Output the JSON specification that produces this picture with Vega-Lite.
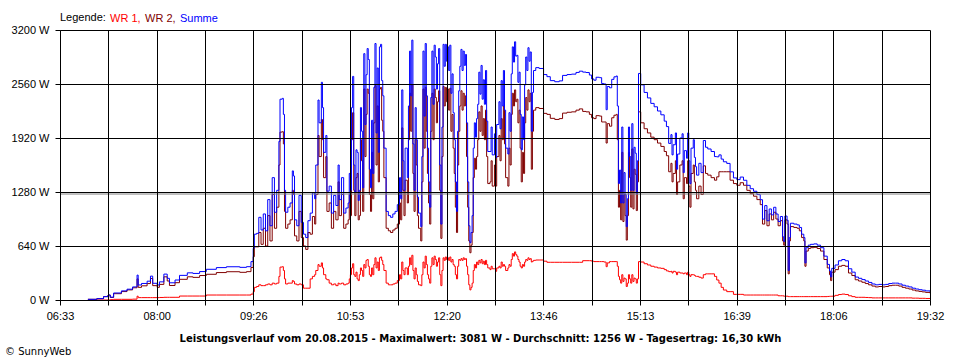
{
"$schema": "https://vega.github.io/schema/vega-lite/v6.json",
"width": 870, "height": 270,
"autosize": {"type": "none"},
"padding": {"left": 60, "top": 30, "right": 30, "bottom": 60},
"background": "white",
"title": {"text": "© SunnyWeb", "orient": "bottom", "anchor": "start", "frame": "group", "fontSize": 10, "fontWeight": "normal", "font": "DejaVu Sans", "color": "black", "dx": -55, "offset": 4},
"config": {
  "view": {"stroke": null},
  "axis": {"domainColor": "black", "gridColor": "black", "gridOpacity": 1, "tickColor": "black", "labelColor": "black", "labelFont": "Liberation Sans", "labelFontSize": 11, "titleFont": "DejaVu Sans", "titleColor": "black"}
},
"data": {"values": [
{"m":418,"a":0,"b":8,"c":8},{"m":426,"a":0,"b":16,"c":16},{"m":432,"a":0,"b":40,"c":40},{"m":436,"a":0,"b":59,"c":59},{"m":438,"a":4,"b":30,"c":34},{"m":441,"a":8,"b":75,"c":83},{"m":448,"a":8,"b":100,"c":108},{"m":453,"a":8,"b":120,"c":128},{"m":458,"a":10,"b":145,"c":155},{"m":462,"a":45,"b":250,"c":295},{"m":463,"a":28,"b":150,"c":178},{"m":466,"a":28,"b":168,"c":196},{"m":471,"a":28,"b":195,"c":223},{"m":474,"a":28,"b":255,"c":283},{"m":476,"a":28,"b":170,"c":198},{"m":480,"a":28,"b":150,"c":178},{"m":482,"a":30,"b":185,"c":215},{"m":486,"a":32,"b":275,"c":307},{"m":489,"a":32,"b":225,"c":257},{"m":491,"a":32,"b":172,"c":204},{"m":496,"a":32,"b":205,"c":237},{"m":500,"a":47,"b":245,"c":292},{"m":507,"a":47,"b":275,"c":322},{"m":512,"a":47,"b":268,"c":315},{"m":518,"a":47,"b":290,"c":337},{"m":524,"a":59,"b":305,"c":364},{"m":533,"a":59,"b":325,"c":384},{"m":542,"a":59,"b":335,"c":394},{"m":554,"a":59,"b":328,"c":387},{"m":560,"a":59,"b":336,"c":395},{"m":564,"a":70,"b":385,"c":455},
{"m":566,"a":99,"b":513,"c":612},{"m":567,"a":150,"b":630,"c":780},{"m":569,"a":160,"b":630,"c":790},{"m":571,"a":180,"b":800,"c":980},{"m":573,"a":170,"b":660,"c":830},{"m":575,"a":170,"b":850,"c":1020},{"m":577,"a":180,"b":640,"c":820},{"m":579,"a":190,"b":1000,"c":1190},{"m":581,"a":180,"b":700,"c":880},{"m":583,"a":200,"b":1250,"c":1450},{"m":585,"a":190,"b":850,"c":1040},{"m":587,"a":200,"b":1100,"c":1300},{"m":589,"a":280,"b":1600,"c":1880},{"m":590,"a":390,"b":1990,"c":2380},{"m":592,"a":395,"b":1995,"c":2390},{"m":593,"a":350,"b":1850,"c":2200},{"m":594,"a":250,"b":1050,"c":1300},{"m":595,"a":190,"b":850,"c":1040},{"m":597,"a":200,"b":900,"c":1100},{"m":599,"a":200,"b":950,"c":1150},{"m":601,"a":230,"b":1300,"c":1530},{"m":602,"a":220,"b":1250,"c":1470},{"m":603,"a":190,"b":760,"c":950},{"m":605,"a":180,"b":700,"c":880},{"m":607,"a":190,"b":1050,"c":1240},{"m":609,"a":180,"b":740,"c":920},{"m":611,"a":140,"b":640,"c":780},{"m":613,"a":140,"b":600,"c":740},{"m":615,"a":140,"b":800,"c":940},{"m":617,"a":250,"b":780,"c":1030},{"m":619,"a":280,"b":990,"c":1270},{"m":621,"a":300,"b":900,"c":1200},{"m":622,"a":350,"b":1250,"c":1600},{"m":624,"a":420,"b":1950,"c":2370},{"m":625,"a":400,"b":1700,"c":2100},{"m":627,"a":440,"b":2140,"c":2580},{"m":628,"a":380,"b":1900,"c":2280},{"m":629,"a":300,"b":1450,"c":1750},{"m":631,"a":250,"b":1700,"c":1950},{"m":632,"a":240,"b":1050,"c":1290},{"m":634,"a":200,"b":1150,"c":1350},{"m":636,"a":180,"b":850,"c":1030},{"m":638,"a":190,"b":1050,"c":1240},{"m":640,"a":170,"b":950,"c":1120},{"m":642,"a":200,"b":1400,"c":1600},{"m":643,"a":190,"b":1000,"c":1190},{"m":645,"a":200,"b":1250,"c":1450},{"m":647,"a":180,"b":850,"c":1030},{"m":649,"a":190,"b":900,"c":1090},{"m":651,"a":200,"b":950,"c":1150},{"m":652,"a":250,"b":1250,"c":1500},
{"m":653,"a":300,"b":1000,"c":1300},{"m":654,"a":380,"b":1900,"c":2280},{"m":655,"a":430,"b":2220,"c":2650},{"m":656,"a":300,"b":1300,"c":1600},{"m":657,"a":280,"b":1000,"c":1280},{"m":658,"a":330,"b":1450,"c":1780},{"m":659,"a":250,"b":1500,"c":1750},{"m":660,"a":230,"b":950,"c":1180},{"m":661,"a":300,"b":1000,"c":1300},{"m":662,"a":380,"b":1900,"c":2280},{"m":663,"a":350,"b":1650,"c":2000},{"m":664,"a":280,"b":1050,"c":1330},{"m":665,"a":420,"b":2500,"c":2920},{"m":666,"a":380,"b":1700,"c":2080},{"m":667,"a":470,"b":2200,"c":2670},{"m":668,"a":480,"b":2500,"c":2980},{"m":669,"a":400,"b":2450,"c":2850},{"m":670,"a":300,"b":1250,"c":1550},{"m":671,"a":280,"b":1050,"c":1330},{"m":672,"a":380,"b":1750,"c":2130},{"m":673,"a":300,"b":1200,"c":1500},{"m":674,"a":420,"b":2100,"c":2520},{"m":675,"a":500,"b":2540,"c":3040},{"m":676,"a":380,"b":1600,"c":1980},{"m":677,"a":450,"b":2300,"c":2750},{"m":678,"a":350,"b":1400,"c":1750},{"m":679,"a":500,"b":2500,"c":3000},{"m":680,"a":510,"b":2520,"c":3030},{"m":681,"a":470,"b":2130,"c":2600},{"m":682,"a":420,"b":2000,"c":2420},{"m":683,"a":350,"b":1450,"c":1800},{"m":685,"a":200,"b":850,"c":1050},{"m":687,"a":180,"b":820,"c":1000},{"m":689,"a":180,"b":800,"c":980},{"m":691,"a":190,"b":830,"c":1020},{"m":693,"a":200,"b":850,"c":1050},{"m":695,"a":230,"b":900,"c":1130},{"m":697,"a":300,"b":1150,"c":1450},{"m":698,"a":250,"b":950,"c":1200},{"m":699,"a":450,"b":2040,"c":2490},{"m":700,"a":350,"b":1300,"c":1650},{"m":701,"a":300,"b":1000,"c":1300},{"m":702,"a":380,"b":1420,"c":1800},{"m":704,"a":300,"b":1150,"c":1450},{"m":705,"a":400,"b":1900,"c":2300},{"m":706,"a":500,"b":2450,"c":2950},{"m":707,"a":420,"b":2000,"c":2420},{"m":708,"a":530,"b":2550,"c":3080},{"m":709,"a":350,"b":1500,"c":1850},{"m":710,"a":250,"b":1050,"c":1300},{"m":711,"a":380,"b":1900,"c":2280},{"m":712,"a":300,"b":1600,"c":1900},{"m":713,"a":220,"b":1000,"c":1220},{"m":714,"a":180,"b":850,"c":1030},{"m":716,"a":170,"b":700,"c":870},{"m":717,"a":300,"b":1400,"c":1700},{"m":718,"a":450,"b":2500,"c":2950},{"m":719,"a":380,"b":1800,"c":2180},{"m":720,"a":520,"b":2520,"c":3040},{"m":721,"a":420,"b":2000,"c":2420},{"m":722,"a":300,"b":1500,"c":1800},{"m":723,"a":250,"b":1150,"c":1400},{"m":724,"a":200,"b":900,"c":1100},{"m":725,"a":400,"b":2000,"c":2400},{"m":726,"a":500,"b":2450,"c":2950},{"m":727,"a":420,"b":1900,"c":2320},{"m":728,"a":520,"b":2500,"c":3020},{"m":729,"a":480,"b":2400,"c":2880},{"m":730,"a":400,"b":2100,"c":2500},{"m":731,"a":450,"b":2350,"c":2800},{"m":732,"a":500,"b":2480,"c":2980},{"m":733,"a":300,"b":1300,"c":1600},{"m":734,"a":170,"b":730,"c":900},{"m":735,"a":350,"b":1700,"c":2050},{"m":736,"a":500,"b":2530,"c":3030},{"m":737,"a":470,"b":2300,"c":2770},{"m":738,"a":510,"b":2520,"c":3030},{"m":739,"a":480,"b":2350,"c":2830},{"m":740,"a":500,"b":2500,"c":3000},{"m":741,"a":470,"b":2250,"c":2720},{"m":742,"a":510,"b":2510,"c":3020},{"m":743,"a":450,"b":2000,"c":2450},{"m":744,"a":480,"b":2200,"c":2680},{"m":745,"a":420,"b":1800,"c":2220},{"m":746,"a":400,"b":1500,"c":1900},{"m":747,"a":300,"b":1100,"c":1400},{"m":748,"a":250,"b":800,"c":1050},{"m":749,"a":400,"b":1600,"c":2000},{"m":750,"a":480,"b":2000,"c":2480},{"m":751,"a":470,"b":2300,"c":2770},{"m":752,"a":490,"b":2480,"c":2970},{"m":753,"a":470,"b":2250,"c":2720},{"m":754,"a":500,"b":2450,"c":2950},{"m":755,"a":480,"b":2300,"c":2780},{"m":756,"a":490,"b":2420,"c":2910},{"m":757,"a":400,"b":1700,"c":2100},{"m":758,"a":300,"b":1100,"c":1400},{"m":759,"a":180,"b":700,"c":880},{"m":760,"a":120,"b":560,"c":680},{"m":761,"a":150,"b":650,"c":800},{"m":762,"a":200,"b":800,"c":1000},{"m":763,"a":350,"b":1450,"c":1800},{"m":764,"a":420,"b":1680,"c":2100},{"m":765,"a":380,"b":1550,"c":1930},{"m":766,"a":450,"b":1700,"c":2150},{"m":767,"a":420,"b":1900,"c":2320},{"m":768,"a":470,"b":2230,"c":2700},{"m":769,"a":440,"b":2000,"c":2440},{"m":770,"a":480,"b":2300,"c":2780},{"m":771,"a":430,"b":1950,"c":2380},{"m":772,"a":460,"b":2150,"c":2610},{"m":773,"a":420,"b":1900,"c":2320},{"m":774,"a":470,"b":2250,"c":2720},{"m":775,"a":420,"b":1700,"c":2120},{"m":776,"a":380,"b":1380,"c":1760},{"m":778,"a":360,"b":1400,"c":1760},{"m":779,"a":400,"b":1650,"c":2050},{"m":780,"a":370,"b":1350,"c":1720},{"m":782,"a":370,"b":1600,"c":1970},{"m":783,"a":340,"b":1350,"c":1690},{"m":784,"a":380,"b":1700,"c":2080},{"m":786,"a":400,"b":1950,"c":2350},{"m":787,"a":380,"b":1650,"c":2030},{"m":788,"a":450,"b":2150,"c":2600},{"m":789,"a":400,"b":1900,"c":2300},{"m":790,"a":420,"b":2300,"c":2720},{"m":791,"a":400,"b":1850,"c":2250},{"m":792,"a":350,"b":1450,"c":1800},{"m":794,"a":380,"b":1350,"c":1730},{"m":795,"a":420,"b":1800,"c":2220},{"m":796,"a":400,"b":1600,"c":2000},{"m":797,"a":480,"b":2200,"c":2680},{"m":798,"a":550,"b":2450,"c":3000},{"m":799,"a":520,"b":2300,"c":2820},{"m":800,"a":570,"b":2490,"c":3060},{"m":801,"a":540,"b":2350,"c":2890},{"m":802,"a":520,"b":2380,"c":2900},{"m":803,"a":480,"b":2100,"c":2580},{"m":804,"a":450,"b":2250,"c":2700},{"m":805,"a":400,"b":1800,"c":2200},{"m":806,"a":380,"b":1400,"c":1780},{"m":807,"a":420,"b":1750,"c":2170},{"m":808,"a":400,"b":1500,"c":1900},{"m":809,"a":450,"b":2100,"c":2550},{"m":810,"a":480,"b":2400,"c":2880},{"m":811,"a":470,"b":2250,"c":2720},{"m":812,"a":500,"b":2490,"c":2990},{"m":813,"a":480,"b":2350,"c":2830},{"m":814,"a":490,"b":2450,"c":2940},{"m":815,"a":450,"b":1550,"c":2000},{"m":816,"a":460,"b":2000,"c":2460},{"m":817,"a":470,"b":2250,"c":2720},
{"m":819,"a":474,"b":2280,"c":2754},{"m":822,"a":474,"b":2270,"c":2744},{"m":826,"a":460,"b":2212,"c":2672},{"m":829,"a":447,"b":2200,"c":2647},{"m":832,"a":447,"b":2153,"c":2600},{"m":836,"a":447,"b":2140,"c":2587},{"m":840,"a":447,"b":2150,"c":2597},{"m":843,"a":447,"b":2215,"c":2662},{"m":847,"a":447,"b":2225,"c":2672},{"m":851,"a":447,"b":2230,"c":2677},{"m":855,"a":447,"b":2250,"c":2697},{"m":858,"a":447,"b":2265,"c":2712},{"m":861,"a":466,"b":2235,"c":2701},{"m":864,"a":466,"b":2230,"c":2696},{"m":867,"a":466,"b":2200,"c":2666},{"m":869,"a":460,"b":2160,"c":2620},{"m":871,"a":455,"b":2150,"c":2605},{"m":873,"a":455,"b":2185,"c":2640},{"m":876,"a":455,"b":2180,"c":2635},{"m":878,"a":455,"b":2110,"c":2565},{"m":880,"a":450,"b":2110,"c":2560},{"m":882,"a":395,"b":1860,"c":2255},{"m":883,"a":440,"b":2090,"c":2530},{"m":885,"a":455,"b":2060,"c":2515},{"m":887,"a":455,"b":2160,"c":2615},{"m":889,"a":455,"b":2190,"c":2645},{"m":891,"a":455,"b":2200,"c":2655},
{"m":892,"a":400,"b":1900,"c":2300},{"m":893,"a":280,"b":1100,"c":1380},{"m":894,"a":240,"b":1300,"c":1540},{"m":895,"a":200,"b":950,"c":1150},{"m":896,"a":300,"b":1750,"c":2050},{"m":897,"a":220,"b":930,"c":1150},{"m":898,"a":260,"b":1250,"c":1510},{"m":899,"a":250,"b":1000,"c":1250},{"m":900,"a":160,"b":710,"c":870},{"m":901,"a":200,"b":1000,"c":1200},{"m":902,"a":300,"b":1750,"c":2050},{"m":903,"a":250,"b":1450,"c":1700},{"m":904,"a":200,"b":1100,"c":1300},{"m":905,"a":300,"b":1790,"c":2090},{"m":906,"a":220,"b":1080,"c":1300},{"m":907,"a":260,"b":1550,"c":1810},{"m":908,"a":250,"b":1490,"c":1740},{"m":909,"a":200,"b":1060,"c":1260},{"m":910,"a":250,"b":1400,"c":1650},
{"m":911,"a":455,"b":2230,"c":2685},{"m":913,"a":450,"b":2100,"c":2550},{"m":916,"a":430,"b":2030,"c":2460},{"m":919,"a":415,"b":1980,"c":2395},{"m":922,"a":400,"b":1930,"c":2330},{"m":925,"a":390,"b":1900,"c":2290},{"m":928,"a":380,"b":1860,"c":2240},{"m":931,"a":375,"b":1820,"c":2195},{"m":934,"a":360,"b":1760,"c":2120},{"m":936,"a":345,"b":1710,"c":2055},{"m":938,"a":336,"b":1520,"c":1856},
{"m":940,"a":340,"b":1620,"c":1960},{"m":941,"a":320,"b":1400,"c":1720},{"m":942,"a":340,"b":1500,"c":1840},{"m":944,"a":330,"b":1650,"c":1980},{"m":945,"a":300,"b":1250,"c":1550},{"m":946,"a":330,"b":1400,"c":1730},{"m":948,"a":320,"b":1600,"c":1920},{"m":950,"a":320,"b":1650,"c":1970},{"m":951,"a":310,"b":1200,"c":1510},{"m":952,"a":320,"b":1450,"c":1770},{"m":954,"a":300,"b":1380,"c":1680},{"m":955,"a":330,"b":1650,"c":1980},{"m":956,"a":300,"b":1350,"c":1650},{"m":957,"a":280,"b":1100,"c":1380},{"m":958,"a":300,"b":1500,"c":1800},{"m":960,"a":300,"b":1600,"c":1900},{"m":961,"a":290,"b":1400,"c":1690},{"m":962,"a":280,"b":1300,"c":1580},{"m":963,"a":280,"b":1200,"c":1480},{"m":965,"a":270,"b":1350,"c":1620},{"m":967,"a":260,"b":1250,"c":1510},{"m":969,"a":300,"b":1590,"c":1890},{"m":971,"a":310,"b":1500,"c":1810},{"m":973,"a":310,"b":1480,"c":1790},{"m":976,"a":310,"b":1450,"c":1760},{"m":979,"a":280,"b":1420,"c":1700},{"m":981,"a":237,"b":1460,"c":1697},{"m":983,"a":200,"b":1520,"c":1720},{"m":985,"a":150,"b":1520,"c":1670},{"m":987,"a":118,"b":1520,"c":1638},{"m":990,"a":99,"b":1520,"c":1619},{"m":993,"a":99,"b":1420,"c":1519},{"m":996,"a":67,"b":1380,"c":1447},{"m":999,"a":67,"b":1360,"c":1427},{"m":1002,"a":67,"b":1390,"c":1457},{"m":1005,"a":59,"b":1360,"c":1419},{"m":1008,"a":59,"b":1300,"c":1359},{"m":1011,"a":59,"b":1260,"c":1319},{"m":1014,"a":59,"b":1230,"c":1289},{"m":1017,"a":59,"b":1190,"c":1249},{"m":1020,"a":59,"b":1130,"c":1189},
{"m":1022,"a":59,"b":900,"c":959},{"m":1024,"a":59,"b":1060,"c":1119},{"m":1026,"a":59,"b":880,"c":939},{"m":1028,"a":59,"b":1020,"c":1079},{"m":1030,"a":59,"b":950,"c":1009},{"m":1032,"a":59,"b":1040,"c":1099},{"m":1034,"a":59,"b":960,"c":1019},{"m":1036,"a":50,"b":880,"c":930},{"m":1038,"a":50,"b":940,"c":990},{"m":1040,"a":50,"b":700,"c":750},{"m":1041,"a":45,"b":650,"c":695},{"m":1042,"a":45,"b":950,"c":995},{"m":1044,"a":45,"b":900,"c":945},{"m":1045,"a":40,"b":310,"c":350},{"m":1046,"a":40,"b":700,"c":740},{"m":1047,"a":40,"b":870,"c":910},{"m":1050,"a":40,"b":860,"c":900},{"m":1053,"a":40,"b":850,"c":890},{"m":1055,"a":40,"b":820,"c":860},{"m":1057,"a":40,"b":740,"c":780},{"m":1059,"a":40,"b":700,"c":740},{"m":1060,"a":40,"b":400,"c":440},{"m":1061,"a":40,"b":580,"c":620},{"m":1063,"a":40,"b":610,"c":650},{"m":1065,"a":40,"b":620,"c":660},{"m":1068,"a":40,"b":625,"c":665},{"m":1071,"a":40,"b":610,"c":650},{"m":1074,"a":40,"b":580,"c":620},{"m":1077,"a":40,"b":480,"c":520},{"m":1080,"a":42,"b":380,"c":422},{"m":1082,"a":44,"b":300,"c":344},{"m":1083,"a":44,"b":230,"c":274},{"m":1084,"a":45,"b":330,"c":375},{"m":1087,"a":55,"b":360,"c":415},{"m":1090,"a":65,"b":400,"c":465},{"m":1093,"a":70,"b":410,"c":480},{"m":1096,"a":65,"b":400,"c":465},{"m":1099,"a":50,"b":320,"c":370},{"m":1102,"a":40,"b":290,"c":330},{"m":1105,"a":32,"b":240,"c":272},{"m":1108,"a":32,"b":225,"c":257},{"m":1111,"a":32,"b":210,"c":242},{"m":1114,"a":30,"b":195,"c":225},{"m":1117,"a":28,"b":180,"c":208},{"m":1120,"a":25,"b":165,"c":190},{"m":1123,"a":25,"b":155,"c":180},{"m":1126,"a":25,"b":160,"c":185},{"m":1129,"a":25,"b":155,"c":180},{"m":1132,"a":25,"b":160,"c":185},{"m":1135,"a":25,"b":170,"c":195},{"m":1138,"a":25,"b":175,"c":200},{"m":1141,"a":25,"b":175,"c":200},{"m":1144,"a":25,"b":165,"c":190},{"m":1147,"a":25,"b":150,"c":175},{"m":1150,"a":25,"b":140,"c":165},{"m":1153,"a":25,"b":130,"c":155},{"m":1156,"a":22,"b":118,"c":140},{"m":1159,"a":22,"b":108,"c":130},{"m":1162,"a":20,"b":102,"c":122},{"m":1165,"a":20,"b":96,"c":116},{"m":1168,"a":18,"b":90,"c":108},{"m":1172,"a":18,"b":80,"c":98}
]},
"layer": [
  {"mark": {"type": "line", "interpolate": "step-after", "strokeWidth": 1},
   "encoding": {
     "x": {"field": "m", "type": "quantitative", "scale": {"domain": [393, 1172], "nice": false, "zero": false},
       "axis": {"values": [393,436.278,479.556,522.833,566.111,609.389,652.667,695.944,739.222,782.5,825.778,869.056,912.333,955.611,998.889,1042.167,1085.444,1128.722,1172],
         "labelExpr": "['06:33','','08:00','','09:26','','10:53','','12:20','','13:46','','15:13','','16:39','','18:06','','19:32'][round((datum.value-393)/43.2778)]",
         "grid": true, "tickSize": 5, "labelPadding": 5, "labelOverlap": false, "labelFlush": false, "zindex": 1,
         "title": "Leistungsverlauf vom 20.08.2015 - Maximalwert: 3081 W - Durchschnitt: 1256 W - Tagesertrag: 16,30 kWh",
         "titleFontWeight": "bold", "titleFontSize": 10, "titleX": 420, "titleY": 41, "titleBaseline": "alphabetic", "titleAlign": "center"}},
     "y": {"field": "a", "type": "quantitative", "scale": {"domain": [0, 3200], "nice": false},
       "axis": {"values": [0,640,1280,1920,2560,3200], "labelExpr": "datum.value + ' W'", "grid": true, "tickSize": 5, "labelPadding": 6, "title": null, "zindex": 1}},
     "color": {"datum": "WR 1", "type": "nominal",
       "scale": {"domain": ["WR 1", "WR 2", "Summe"], "range": ["#ff0000", "#800000", "#0000ff"]},
       "legend": {"title": "Legende:", "orient": "top", "direction": "horizontal", "titleOrient": "left", "titleFontWeight": "normal", "titleFontSize": 11, "titleColor": "black", "titleFont": "Liberation Sans", "titlePadding": 3,
         "labelFont": "Liberation Sans", "labelFontSize": 11, "labelExpr": "datum.label == 'Summe' ? datum.label : datum.label + ','",
         "symbolSize": 0, "symbolStrokeWidth": 0, "symbolOpacity": 0, "labelOffset": -10, "columnPadding": 3, "offset": 6, "padding": 0,
         "encode": {"labels": {"update": {"fill": {"scale": "color", "field": "value"}}}}}}
   }},
  {"mark": {"type": "line", "interpolate": "step-after", "strokeWidth": 1},
   "encoding": {"x": {"field": "m", "type": "quantitative"}, "y": {"field": "b", "type": "quantitative"}, "color": {"datum": "WR 2", "type": "nominal"}}},
  {"mark": {"type": "line", "interpolate": "step-after", "strokeWidth": 1},
   "encoding": {"x": {"field": "m", "type": "quantitative"}, "y": {"field": "c", "type": "quantitative"}, "color": {"datum": "Summe", "type": "nominal"}}},
  {"data": {"values": [{"avg": 1256}]},
   "mark": {"type": "rule", "color": "#808080", "strokeWidth": 1},
   "encoding": {"y": {"field": "avg", "type": "quantitative"}}}
]
}
